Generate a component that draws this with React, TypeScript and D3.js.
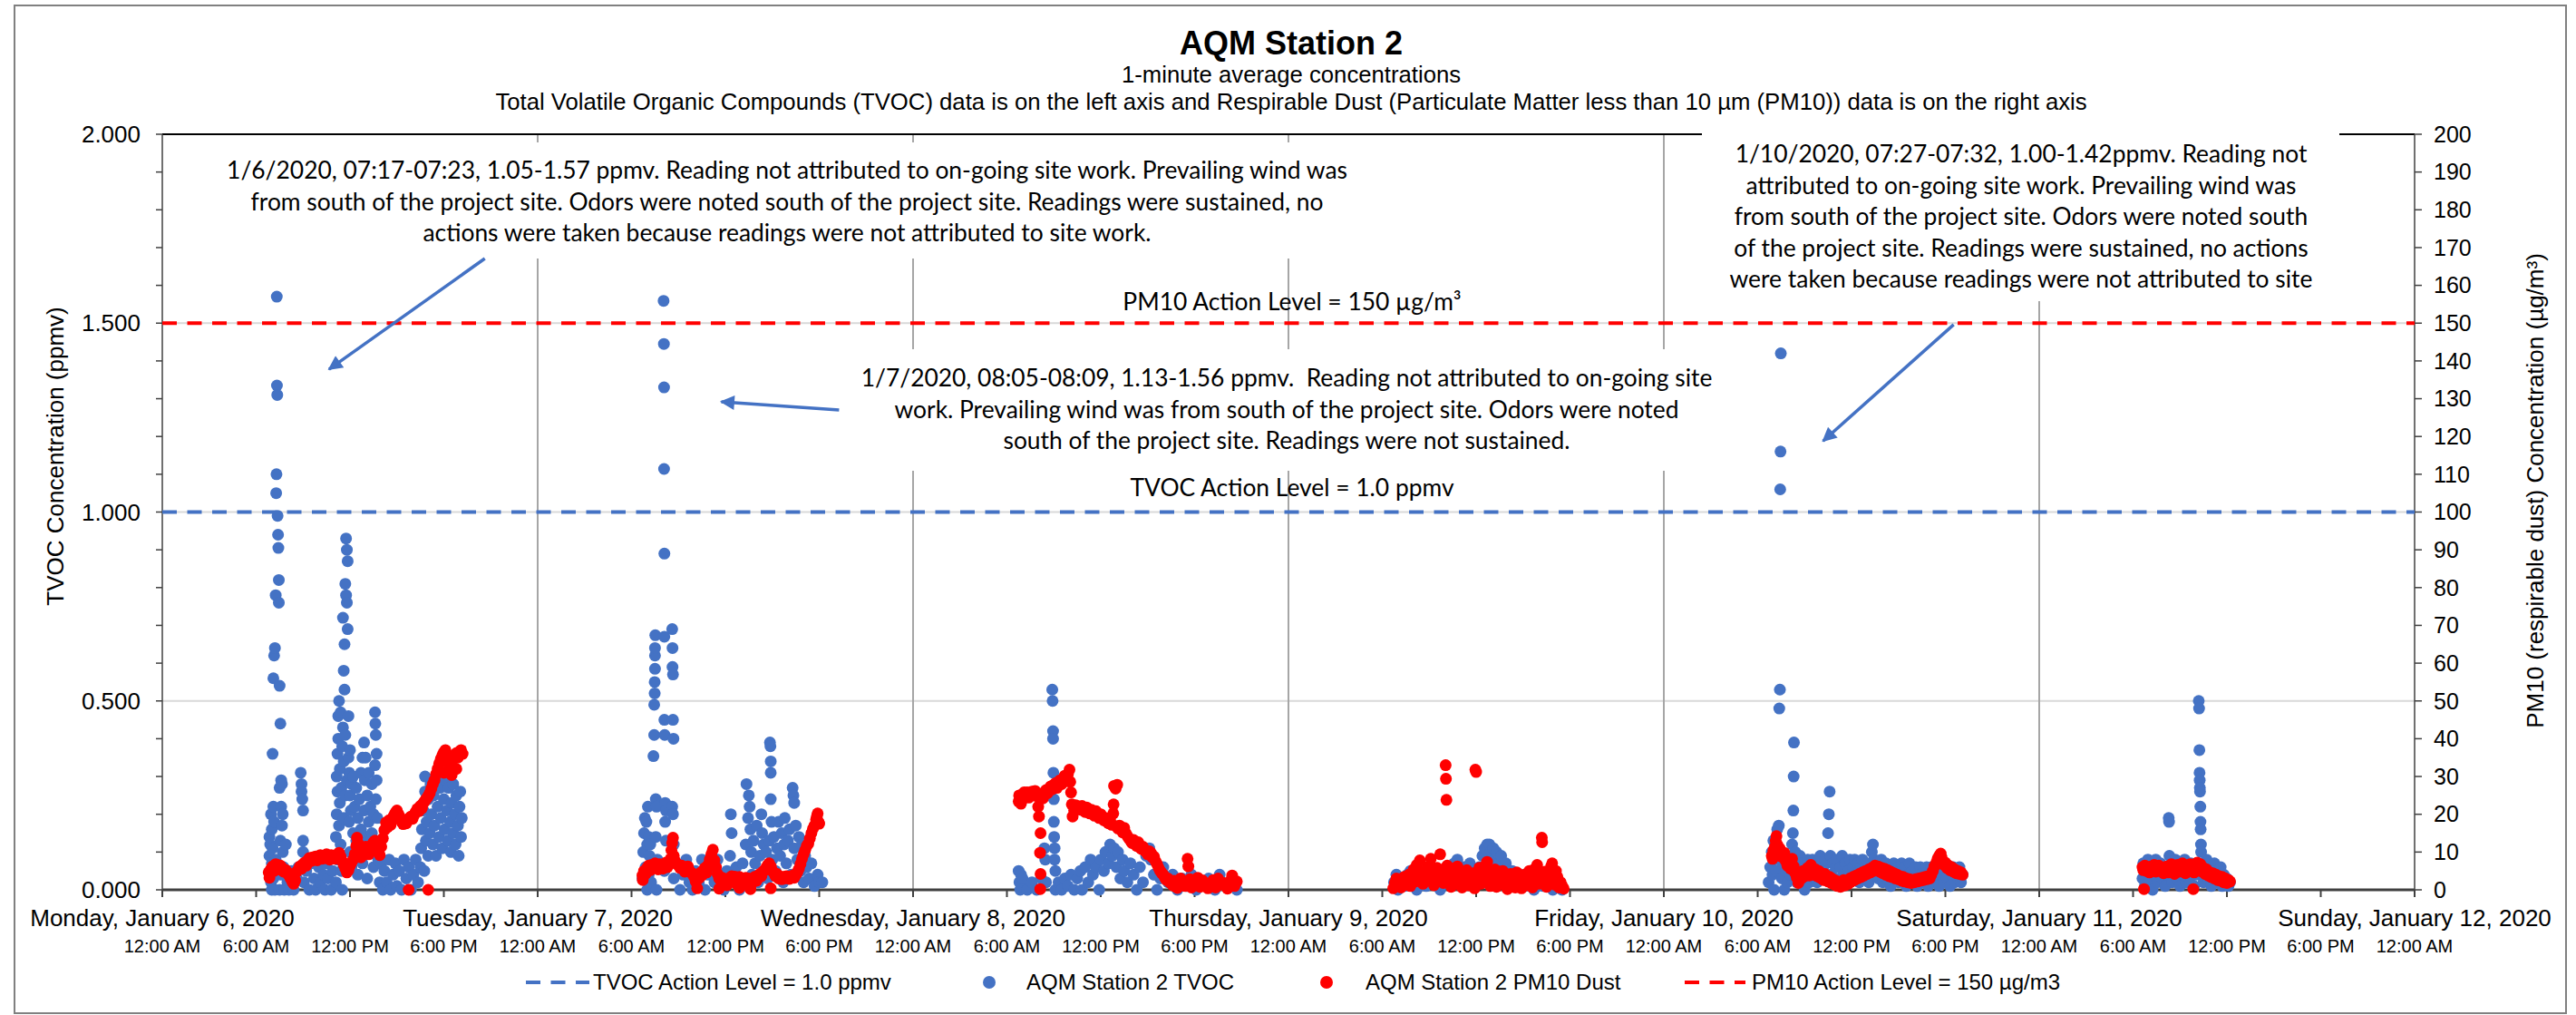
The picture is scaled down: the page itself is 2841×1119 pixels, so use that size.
import React, { useEffect, useRef } from 'react';
import * as d3 from 'd3';

const W = 2841;
const H = 1119;

// hour of day, TVOC ppmv (left axis)
const tvocJan6: [number, number][] = [
  [6.85, 0.14], [6.85, 0.09], [6.9, 0.12], [6.9, 0.05], [6.95, 0.2], [6.95, 0.02], [7.0, 0.16], [7.0, 0.07], [7.0, 0.0],
  [7.05, 0.36], [7.05, 0.11], [7.1, 0.56], [7.1, 0.22], [7.1, 0.03], [7.15, 0.62], [7.15, 0.18], [7.2, 0.64], [7.2, 0.0],
  [7.25, 0.78], [7.25, 0.08], [7.28, 1.05], [7.3, 1.1], [7.32, 1.57], [7.33, 1.335], [7.35, 1.31], [7.37, 0.99], [7.4, 0.94],
  [7.42, 0.905], [7.45, 0.82], [7.45, 0.76], [7.5, 0.54], [7.5, 0.27], [7.5, 0.0], [7.55, 0.44], [7.55, 0.13], [7.6, 0.29],
  [7.6, 0.22], [7.6, 0.04], [7.65, 0.28], [7.65, 0.17], [7.7, 0.2], [7.7, 0.1], [7.75, 0.06], [7.8, 0.0], [7.9, 0.12],
  [8.0, 0.02], [8.1, 0.0], [8.25, 0.05], [8.4, 0.0], [8.6, 0.03], [8.7, 0.06], [8.85, 0.31], [8.9, 0.28], [8.9, 0.26],
  [8.95, 0.24], [9.0, 0.21], [9.0, 0.13], [9.0, 0.1], [9.05, 0.02], [9.2, 0.05], [9.4, 0.0], [9.5, 0.07], [9.7, 0.03],
  [9.8, 0.0], [10.0, 0.06], [10.1, 0.02], [10.3, 0.04], [10.4, 0.0], [10.5, 0.07], [10.6, 0.03], [10.8, 0.0], [10.9, 0.05],
  [11.0, 0.09], [11.1, 0.02], [11.1, 0.14], [11.15, 0.2], [11.15, 0.3], [11.2, 0.26], [11.2, 0.36], [11.2, 0.08],
  [11.25, 0.4], [11.25, 0.46], [11.3, 0.5], [11.3, 0.17], [11.35, 0.23], [11.35, 0.32], [11.4, 0.47], [11.4, 0.12],
  [11.45, 0.05], [11.45, 0.27], [11.5, 0.0], [11.5, 0.38], [11.55, 0.72], [11.55, 0.43], [11.6, 0.58], [11.6, 0.34],
  [11.6, 0.19], [11.65, 0.53], [11.65, 0.65], [11.7, 0.81], [11.7, 0.41], [11.7, 0.25], [11.75, 0.93], [11.75, 0.78],
  [11.8, 0.9], [11.8, 0.76], [11.8, 0.29], [11.85, 0.87], [11.85, 0.69], [11.9, 0.46], [11.9, 0.35], [11.95, 0.31],
  [11.95, 0.18], [12.0, 0.37], [12.0, 0.25], [12.0, 0.1], [12.05, 0.21], [12.1, 0.28], [12.1, 0.06], [12.2, 0.3],
  [12.2, 0.15], [12.3, 0.22], [12.3, 0.09], [12.4, 0.27], [12.4, 0.13], [12.5, 0.19], [12.5, 0.04], [12.6, 0.24],
  [12.6, 0.11], [12.7, 0.31], [12.7, 0.16], [12.8, 0.35], [12.8, 0.07], [12.9, 0.39], [12.9, 0.21], [12.95, 0.29],
  [13.0, 0.35], [13.0, 0.14], [13.1, 0.25], [13.1, 0.03], [13.2, 0.18], [13.2, 0.31], [13.3, 0.22], [13.3, 0.1],
  [13.4, 0.28], [13.4, 0.15], [13.5, 0.2], [13.5, 0.06], [13.6, 0.47], [13.6, 0.33], [13.62, 0.44], [13.65, 0.41],
  [13.65, 0.24], [13.7, 0.36], [13.7, 0.29], [13.7, 0.12], [13.75, 0.19], [13.8, 0.08], [13.9, 0.02], [14.0, 0.07],
  [14.1, 0.0], [14.2, 0.05], [14.35, 0.02], [14.5, 0.08], [14.6, 0.0], [14.75, 0.04], [14.9, 0.07], [15.0, 0.01],
  [15.15, 0.05], [15.3, 0.0], [15.45, 0.08], [15.6, 0.03], [15.75, 0.06], [15.9, 0.0], [16.05, 0.04], [16.2, 0.08],
  [16.35, 0.02], [16.5, 0.06], [16.55, 0.11], [16.6, 0.16], [16.7, 0.21], [16.75, 0.05], [16.8, 0.3], [16.8, 0.26],
  [16.85, 0.13], [16.9, 0.18], [17.0, 0.24], [17.0, 0.09], [17.1, 0.15], [17.15, 0.28], [17.2, 0.2], [17.3, 0.12],
  [17.35, 0.25], [17.4, 0.17], [17.5, 0.29], [17.5, 0.09], [17.6, 0.22], [17.7, 0.14], [17.75, 0.27], [17.8, 0.19],
  [17.9, 0.11], [18.0, 0.24], [18.05, 0.16], [18.1, 0.29], [18.2, 0.21], [18.25, 0.13], [18.3, 0.27], [18.4, 0.18],
  [18.45, 0.1], [18.5, 0.23], [18.6, 0.28], [18.6, 0.15], [18.7, 0.2], [18.75, 0.12], [18.8, 0.25], [18.9, 0.17],
  [18.95, 0.09], [19.0, 0.22], [19.05, 0.26], [19.1, 0.14], [19.15, 0.19],
];

const tvocJan7: [number, number][] = [
  [6.7, 0.03], [6.75, 0.1], [6.8, 0.15], [6.85, 0.19], [6.9, 0.06], [6.95, 0.18], [7.0, 0.12], [7.0, 0.0], [7.05, 0.22],
  [7.1, 0.14], [7.1, 0.04], [7.15, 0.09], [7.2, 0.12], [7.25, 0.02], [7.3, 0.07], [7.4, 0.354], [7.45, 0.41], [7.45, 0.49],
  [7.48, 0.52], [7.48, 0.55], [7.5, 0.585], [7.5, 0.62], [7.5, 0.64], [7.52, 0.674], [7.55, 0.24], [7.6, 0.22],
  [7.55, 0.14], [7.6, 0.0], [7.65, 0.08], [8.05, 1.559], [8.07, 1.445], [8.08, 1.33], [8.08, 1.114], [8.1, 0.89],
  [8.1, 0.67], [8.1, 0.45], [8.12, 0.41], [8.15, 0.23], [8.15, 0.18], [8.1, 0.05], [8.2, 0.21], [8.2, 0.13], [8.6, 0.69],
  [8.62, 0.64], [8.62, 0.59], [8.65, 0.57], [8.65, 0.45], [8.68, 0.4], [8.6, 0.22], [8.65, 0.2], [8.7, 0.12], [8.7, 0.03],
  [8.9, 0.07], [9.1, 0.0], [9.3, 0.04], [9.5, 0.08], [9.7, 0.02], [9.9, 0.0], [10.1, 0.05], [10.3, 0.02], [10.5, 0.08],
  [10.7, 0.0], [10.9, 0.04], [11.1, 0.06], [11.3, 0.02], [11.5, 0.08], [11.7, 0.04], [11.9, 0.0], [12.1, 0.05],
  [12.3, 0.09], [12.35, 0.2], [12.4, 0.15], [12.5, 0.03], [12.7, 0.06], [12.9, 0.0], [13.1, 0.07], [13.3, 0.12],
  [13.35, 0.28], [13.45, 0.19], [13.5, 0.25], [13.55, 0.22], [13.6, 0.16], [13.65, 0.1], [13.7, 0.04], [13.8, 0.13],
  [13.9, 0.07], [14.0, 0.17], [14.1, 0.02], [14.2, 0.09], [14.3, 0.2], [14.35, 0.15], [14.45, 0.12], [14.5, 0.05],
  [14.6, 0.1], [14.7, 0.03], [14.8, 0.13], [14.85, 0.39], [14.88, 0.38], [14.9, 0.34], [14.9, 0.31], [14.9, 0.24],
  [14.95, 0.18], [15.0, 0.08], [15.1, 0.14], [15.2, 0.05], [15.3, 0.11], [15.4, 0.18], [15.5, 0.09], [15.6, 0.15],
  [15.7, 0.02], [15.75, 0.12], [15.8, 0.19], [15.9, 0.07], [16.0, 0.13], [16.1, 0.16], [16.2, 0.04], [16.3, 0.27],
  [16.35, 0.25], [16.4, 0.23], [16.4, 0.11], [16.5, 0.17], [16.6, 0.08], [16.7, 0.14], [16.8, 0.05], [16.9, 0.12],
  [17.0, 0.02], [17.1, 0.09], [17.2, 0.06], [17.35, 0.03], [17.5, 0.07], [17.7, 0.01], [17.9, 0.04], [18.0, 0.02],
  [18.2, 0.02],
];

const tvocJan8: [number, number][] = [
  [6.75, 0.05], [6.8, 0.02], [6.85, 0.0], [6.9, 0.04], [6.95, 0.01], [7.0, 0.03], [7.3, 0.0], [7.6, 0.02], [7.9, 0.0],
  [8.2, 0.03], [8.4, 0.11], [8.45, 0.08], [8.5, 0.02], [8.9, 0.53], [8.92, 0.5], [8.95, 0.42], [8.95, 0.4], [8.97, 0.31],
  [9.0, 0.24], [9.0, 0.18], [9.02, 0.14], [9.05, 0.11], [9.05, 0.08], [9.1, 0.05], [9.1, 0.0], [9.3, 0.02], [9.5, 0.0],
  [9.7, 0.03], [9.9, 0.01], [10.1, 0.04], [10.3, 0.0], [10.5, 0.03], [10.7, 0.05], [10.8, 0.0], [11.0, 0.06], [11.2, 0.02],
  [11.35, 0.08], [11.5, 0.04], [11.7, 0.06], [11.9, 0.0], [12.0, 0.08], [12.2, 0.05], [12.3, 0.1], [12.5, 0.07],
  [12.6, 0.12], [12.75, 0.09], [12.85, 0.11], [13.0, 0.06], [13.1, 0.1], [13.25, 0.03], [13.4, 0.08], [13.5, 0.05],
  [13.7, 0.02], [13.9, 0.07], [14.1, 0.04], [14.3, 0.0], [14.5, 0.06], [14.7, 0.02], [14.9, 0.09], [15.1, 0.11],
  [15.2, 0.08], [15.4, 0.04], [15.6, 0.0], [15.8, 0.03], [16.0, 0.06], [16.3, 0.02], [16.6, 0.04], [16.9, 0.0],
  [17.2, 0.03], [17.5, 0.01], [17.8, 0.04], [18.1, 0.0], [18.5, 0.02], [18.9, 0.03], [19.3, 0.0], [19.6, 0.04],
  [20.0, 0.01], [20.4, 0.03], [20.7, 0.0],
];

const tvocJan9: [number, number][] = [
  [6.75, 0.02], [6.9, 0.04], [7.0, 0.0], [7.2, 0.03], [7.4, 0.01], [7.6, 0.04], [7.8, 0.05], [8.0, 0.02], [8.2, 0.0],
  [8.5, 0.03], [8.8, 0.01], [9.1, 0.04], [9.4, 0.02], [9.7, 0.0], [10.0, 0.03], [10.3, 0.05], [10.6, 0.07], [10.8, 0.08],
  [11.0, 0.04], [11.2, 0.06], [11.4, 0.02], [11.6, 0.07], [11.8, 0.05], [12.0, 0.03], [12.2, 0.06], [12.4, 0.09],
  [12.55, 0.11], [12.7, 0.12], [12.85, 0.12], [12.95, 0.1], [13.1, 0.11], [13.2, 0.08], [13.3, 0.1], [13.45, 0.07],
  [13.6, 0.09], [13.7, 0.05], [13.9, 0.07], [14.1, 0.04], [14.3, 0.05], [14.5, 0.02], [14.8, 0.04], [15.1, 0.01],
  [15.4, 0.03], [15.7, 0.0], [16.0, 0.02], [16.3, 0.01], [16.6, 0.03], [16.9, 0.0], [17.2, 0.02], [17.5, 0.0],
];

const tvocJan10: [number, number][] = [
  [6.7, 0.02], [6.8, 0.06], [6.9, 0.1], [6.95, 0.04], [7.0, 0.13], [7.05, 0.0], [7.1, 0.08], [7.2, 0.05], [7.25, 0.16],
  [7.3, 0.11], [7.35, 0.17], [7.38, 0.48], [7.42, 0.53], [7.44, 1.06], [7.46, 1.16], [7.48, 1.42], [7.5, 0.09],
  [7.55, 0.03], [7.6, 0.07], [7.7, 0.0], [7.8, 0.05], [7.9, 0.02], [8.0, 0.08], [8.1, 0.04], [8.2, 0.12], [8.25, 0.15],
  [8.28, 0.21], [8.3, 0.3], [8.32, 0.39], [8.35, 0.07], [8.4, 0.1], [8.5, 0.02], [8.6, 0.06], [8.7, 0.09], [8.8, 0.03],
  [8.9, 0.07], [9.0, 0.0], [9.1, 0.05], [9.2, 0.08], [9.3, 0.02], [9.4, 0.06], [9.5, 0.08], [9.6, 0.04], [9.7, 0.07],
  [9.8, 0.02], [9.9, 0.06], [10.0, 0.09], [10.1, 0.03], [10.2, 0.06], [10.3, 0.08], [10.5, 0.15], [10.55, 0.2],
  [10.6, 0.26], [10.65, 0.09], [10.7, 0.04], [10.8, 0.07], [10.9, 0.02], [11.0, 0.06], [11.1, 0.08], [11.2, 0.03],
  [11.3, 0.06], [11.4, 0.09], [11.5, 0.04], [11.6, 0.07], [11.7, 0.02], [11.8, 0.05], [11.9, 0.08], [12.0, 0.03],
  [12.1, 0.06], [12.2, 0.08], [12.3, 0.04], [12.4, 0.07], [12.5, 0.02], [12.6, 0.06], [12.7, 0.08], [12.8, 0.03],
  [12.9, 0.05], [13.0, 0.07], [13.1, 0.02], [13.2, 0.06], [13.3, 0.1], [13.37, 0.12], [13.45, 0.08], [13.5, 0.04],
  [13.6, 0.07], [13.7, 0.03], [13.8, 0.06], [13.9, 0.08], [14.0, 0.02], [14.1, 0.05], [14.2, 0.07], [14.3, 0.03],
  [14.4, 0.06], [14.5, 0.01], [14.6, 0.05], [14.7, 0.07], [14.8, 0.03], [14.9, 0.06], [15.0, 0.02], [15.1, 0.05],
  [15.2, 0.07], [15.3, 0.03], [15.4, 0.06], [15.5, 0.01], [15.6, 0.04], [15.7, 0.07], [15.8, 0.02], [15.9, 0.05],
  [16.0, 0.03], [16.1, 0.06], [16.2, 0.01], [16.3, 0.04], [16.4, 0.06], [16.5, 0.02], [16.6, 0.05], [16.7, 0.03],
  [16.8, 0.06], [16.9, 0.01], [17.0, 0.04], [17.1, 0.06], [17.2, 0.02], [17.3, 0.05], [17.4, 0.03], [17.5, 0.06],
  [17.6, 0.01], [17.7, 0.04], [17.8, 0.06], [17.9, 0.02], [18.0, 0.05], [18.1, 0.03], [18.2, 0.06], [18.3, 0.01],
  [18.4, 0.04], [18.5, 0.06], [18.6, 0.02], [18.7, 0.05], [18.8, 0.03], [18.9, 0.06], [19.0, 0.02], [19.1, 0.04],
];

const tvocJan11: [number, number][] = [
  [6.6, 0.03], [6.65, 0.07], [6.75, 0.01], [6.85, 0.05], [6.95, 0.08], [7.05, 0.02], [7.15, 0.06], [7.25, 0.0],
  [7.35, 0.04], [7.45, 0.08], [7.55, 0.02], [7.65, 0.05], [7.75, 0.07], [7.85, 0.03], [7.95, 0.06], [8.05, 0.01],
  [8.15, 0.04], [8.28, 0.19], [8.3, 0.18], [8.32, 0.09], [8.4, 0.05], [8.5, 0.02], [8.6, 0.06], [8.7, 0.08], [8.8, 0.03],
  [8.9, 0.05], [9.0, 0.01], [9.1, 0.07], [9.2, 0.04], [9.3, 0.08], [9.4, 0.02], [9.5, 0.06], [9.6, 0.03], [9.7, 0.07],
  [9.8, 0.05], [9.9, 0.01], [10.0, 0.04], [10.1, 0.07], [10.2, 0.5], [10.22, 0.48], [10.24, 0.37], [10.25, 0.31],
  [10.26, 0.29], [10.27, 0.27], [10.28, 0.26], [10.3, 0.22], [10.31, 0.18], [10.32, 0.16], [10.34, 0.12], [10.35, 0.1],
  [10.4, 0.06], [10.5, 0.02], [10.6, 0.05], [10.7, 0.08], [10.8, 0.03], [10.9, 0.06], [11.0, 0.01], [11.1, 0.04],
  [11.2, 0.07], [11.3, 0.02], [11.4, 0.05], [11.5, 0.03], [11.6, 0.06], [11.7, 0.01], [11.8, 0.04], [11.9, 0.02],
  [12.0, 0.03], [12.1, 0.01], [12.2, 0.02],
];

// hour of day, PM10 ug/m3 (right axis)
const pm10Jan6: [number, number][] = [
  [6.8, 4.6], [6.85, 3.2], [6.95, 5.5], [7.05, 6.2], [7.15, 5.0], [7.25, 6.8], [7.35, 6.6], [7.45, 5.4], [7.55, 6.4],
  [7.65, 5.8], [7.75, 4.8], [7.9, 5.2], [8.0, 4.6], [8.1, 3.8], [8.2, 3.0], [8.3, 2.2], [8.4, 1.6], [8.5, 2.5],
  [8.6, 4.8], [8.7, 5.4], [8.8, 6.2], [8.9, 5.6], [9.0, 6.8], [9.1, 7.2], [9.2, 6.4], [9.3, 7.8], [9.4, 8.4], [9.5, 7.6],
  [9.6, 8.6], [9.7, 8.0], [9.8, 8.8], [9.9, 7.8], [10.0, 8.6], [10.1, 9.2], [10.2, 8.2], [10.3, 9.0], [10.4, 8.4],
  [10.5, 9.4], [10.6, 8.6], [10.7, 8.0], [10.8, 9.2], [10.9, 8.4], [11.0, 9.0], [11.1, 8.2], [11.2, 9.4], [11.3, 9.8],
  [11.4, 8.8], [11.5, 7.6], [11.6, 6.6], [11.7, 5.6], [11.8, 4.6], [11.9, 5.2], [12.0, 6.4], [12.1, 7.2], [12.2, 8.0],
  [12.3, 9.4], [12.4, 11.6], [12.45, 13.8], [12.5, 12.4], [12.6, 10.0], [12.7, 8.6], [12.8, 9.6], [12.9, 10.8],
  [13.0, 11.4], [13.1, 10.2], [13.2, 9.4], [13.3, 10.6], [13.4, 11.8], [13.5, 12.6], [13.6, 13.0], [13.7, 11.2],
  [13.8, 10.0], [13.9, 9.2], [14.0, 11.4], [14.1, 13.6], [14.2, 15.8], [14.3, 17.8], [14.4, 16.6], [14.5, 18.4],
  [14.6, 17.2], [14.7, 18.8], [14.8, 19.6], [14.9, 20.4], [15.0, 21.0], [15.1, 20.0], [15.2, 19.2], [15.3, 18.0],
  [15.4, 17.4], [15.5, 18.2], [15.6, 17.6], [15.7, 18.6], [15.75, 0.0], [15.8, 19.0], [15.9, 19.4], [16.0, 18.8],
  [16.1, 19.8], [16.2, 20.6], [16.3, 21.4], [16.4, 20.8], [16.5, 22.2], [16.6, 21.6], [16.7, 23.0], [16.8, 23.6],
  [16.9, 24.2], [17.0, 0.0], [17.0, 24.8], [17.1, 25.6], [17.2, 26.8], [17.3, 28.0], [17.4, 29.0], [17.5, 30.6],
  [17.6, 32.0], [17.7, 33.4], [17.8, 34.6], [17.9, 35.6], [18.0, 36.4], [18.0, 31.0], [18.1, 37.0], [18.2, 35.0],
  [18.3, 33.2], [18.4, 32.0], [18.5, 33.6], [18.5, 30.4], [18.6, 34.8], [18.7, 35.8], [18.8, 36.2], [18.8, 32.0],
  [18.9, 35.0], [19.0, 36.6], [19.1, 37.0], [19.2, 36.0],
];

const pm10Jan7: [number, number][] = [
  [6.7, 3.8], [6.72, 2.6], [6.8, 5.0], [6.9, 4.2], [7.0, 5.8], [7.1, 6.4], [7.2, 5.2], [7.3, 6.6], [7.4, 5.8], [7.5, 7.0],
  [7.6, 6.2], [7.7, 5.4], [7.8, 6.8], [7.9, 6.2], [8.0, 5.6], [8.1, 6.5], [8.2, 7.2], [8.3, 6.0], [8.4, 7.5], [8.5, 8.2],
  [8.55, 10.5], [8.6, 12.4], [8.65, 13.8], [8.7, 9.0], [8.8, 7.5], [8.9, 6.8], [9.0, 6.5], [9.1, 5.8], [9.2, 6.4],
  [9.3, 5.5], [9.4, 4.8], [9.5, 5.6], [9.6, 6.2], [9.7, 5.0], [9.8, 4.6], [9.9, 4.2], [10.0, 3.4], [10.1, 2.2],
  [10.2, 0.4], [10.3, 3.0], [10.4, 4.5], [10.5, 3.8], [10.6, 5.2], [10.7, 5.8], [10.8, 4.6], [10.9, 6.6], [11.0, 8.0],
  [11.1, 9.4], [11.2, 10.6], [11.3, 7.8], [11.4, 6.0], [11.5, 4.2], [11.6, 3.0], [11.6, 0.3], [11.7, 2.4], [11.8, 3.2],
  [11.9, 1.8], [12.0, 2.6], [12.1, 1.2], [12.2, 3.0], [12.3, 2.2], [12.4, 3.6], [12.5, 2.4], [12.6, 3.5], [12.7, 1.6],
  [12.8, 2.8], [12.9, 3.4], [12.9, 0.5], [13.0, 2.5], [13.1, 1.4], [13.2, 2.6], [13.3, 3.2], [13.4, 2.0], [13.5, 3.0],
  [13.6, 2.5], [13.6, 0.2], [13.7, 1.8], [13.8, 2.8], [13.9, 3.5], [14.0, 2.4], [14.1, 3.3], [14.2, 4.2], [14.3, 3.6],
  [14.4, 4.8], [14.5, 5.2], [14.6, 5.8], [14.7, 6.5], [14.8, 7.0], [14.9, 6.2], [14.9, 0.4], [15.0, 5.0], [15.1, 4.5],
  [15.2, 3.6], [15.3, 4.2], [15.4, 3.0], [15.5, 3.5], [15.6, 2.8], [15.7, 3.4], [15.8, 3.0], [15.9, 3.6], [16.0, 3.3],
  [16.1, 2.9], [16.2, 3.5], [16.3, 3.8], [16.4, 3.2], [16.5, 4.0], [16.6, 4.6], [16.7, 5.5], [16.8, 6.8], [16.9, 8.2],
  [17.0, 9.4], [17.1, 10.5], [17.2, 11.6], [17.3, 12.2], [17.4, 13.6], [17.5, 15.0], [17.6, 16.2], [17.7, 17.0],
  [17.8, 18.6], [17.85, 19.5], [17.9, 20.2], [17.95, 18.0], [18.0, 17.5],
];

const pm10Jan8: [number, number][] = [
  [6.75, 23.4], [6.78, 25.0], [6.85, 24.2], [6.9, 22.8], [6.95, 25.2], [7.0, 24.0], [7.1, 25.8], [7.2, 24.6], [7.3, 25.8],
  [7.4, 24.4], [7.5, 25.0], [7.6, 26.0], [7.7, 25.2], [7.8, 26.2], [7.9, 24.8], [8.0, 22.0], [8.05, 19.4], [8.15, 15.0],
  [8.12, 9.8], [8.15, 4.2], [8.13, 0.2], [8.2, 25.4], [8.3, 24.2], [8.4, 25.8], [8.5, 26.4], [8.6, 25.6], [8.7, 26.8],
  [8.8, 27.4], [8.9, 26.6], [9.0, 27.8], [9.1, 28.2], [9.2, 27.0], [9.3, 28.6], [9.4, 29.0], [9.5, 28.0], [9.6, 29.4],
  [9.7, 30.2], [9.8, 28.8], [9.9, 30.6], [10.0, 31.8], [10.05, 28.6], [10.1, 25.8], [10.15, 22.6], [10.2, 19.4],
  [10.3, 21.0], [10.4, 22.4], [10.5, 21.6], [10.6, 22.0], [10.7, 21.2], [10.8, 22.2], [10.9, 21.4], [11.0, 20.6],
  [11.1, 21.8], [11.2, 21.0], [11.3, 20.2], [11.4, 21.2], [11.5, 20.4], [11.6, 19.6], [11.7, 20.8], [11.8, 19.8],
  [11.9, 19.0], [12.0, 20.0], [12.1, 19.2], [12.2, 18.4], [12.3, 19.0], [12.4, 18.0], [12.5, 17.6], [12.6, 18.2],
  [12.7, 17.2], [12.8, 20.2], [12.82, 22.6], [12.85, 27.5], [12.95, 26.8], [13.05, 27.8], [13.0, 16.8], [13.1, 16.2],
  [13.2, 17.0], [13.3, 16.0], [13.4, 15.2], [13.5, 16.4], [13.6, 15.0], [13.7, 14.2], [13.8, 13.6], [13.9, 13.0],
  [14.0, 12.4], [14.1, 13.2], [14.2, 12.0], [14.3, 11.6], [14.4, 12.6], [14.5, 11.2], [14.6, 10.8], [14.7, 11.4],
  [14.8, 10.4], [14.9, 10.0], [15.0, 9.4], [15.1, 10.2], [15.2, 9.8], [15.3, 8.6], [15.4, 8.8], [15.5, 7.6], [15.6, 6.8],
  [15.7, 5.8], [15.8, 5.0], [15.9, 4.4], [16.0, 4.0], [16.1, 3.2], [16.2, 2.6], [16.3, 3.0], [16.4, 2.0], [16.5, 1.8],
  [16.6, 1.2], [16.7, 2.4], [16.8, 0.8], [16.9, 0.5], [17.0, 1.6], [17.1, 3.0], [17.2, 2.2], [17.4, 1.0], [17.55, 8.2],
  [17.6, 6.2], [17.7, 2.8], [17.8, 0.6], [18.0, 1.5], [18.2, 3.2], [18.35, 0.8], [18.5, 2.5], [18.7, 1.6], [18.85, 0.4],
  [19.0, 1.2], [19.2, 2.6], [19.35, 0.6], [19.5, 3.0], [19.7, 1.4], [19.9, 1.8], [20.1, 0.3], [20.3, 2.4], [20.4, 3.8],
  [20.55, 1.0], [20.7, 2.2],
];

const pm10Jan9: [number, number][] = [
  [6.7, 0.4], [6.8, 1.8], [6.9, 3.0], [7.0, 1.2], [7.1, 2.6], [7.2, 0.6], [7.3, 2.0], [7.4, 3.4], [7.5, 1.4], [7.6, 2.8],
  [7.7, 4.0], [7.8, 1.0], [7.9, 3.2], [8.0, 5.4], [8.1, 2.2], [8.2, 6.6], [8.3, 3.6], [8.4, 7.8], [8.5, 4.4], [8.6, 1.6],
  [8.7, 5.0], [8.8, 2.8], [8.9, 6.0], [9.0, 3.4], [9.1, 8.2], [9.2, 4.6], [9.3, 1.2], [9.4, 3.8], [9.5, 5.8], [9.6, 2.4],
  [9.7, 9.4], [9.8, 4.8], [9.9, 1.8], [10.0, 3.6], [10.05, 33.0], [10.07, 29.4], [10.1, 23.8], [10.15, 6.4], [10.2, 2.0],
  [10.3, 4.4], [10.4, 0.8], [10.5, 3.0], [10.6, 5.6], [10.7, 2.2], [10.8, 6.2], [10.9, 1.4], [11.0, 3.8], [11.1, 0.6],
  [11.2, 4.8], [11.3, 2.6], [11.4, 5.2], [11.5, 1.2], [11.6, 3.6], [11.7, 2.0], [11.8, 4.4], [11.9, 0.4], [11.95, 31.8],
  [12.0, 31.2], [12.1, 3.0], [12.2, 5.8], [12.3, 1.6], [12.4, 4.0], [12.5, 2.4], [12.6, 6.4], [12.7, 7.4], [12.8, 3.4],
  [12.9, 1.0], [13.0, 4.6], [13.1, 2.8], [13.2, 5.4], [13.3, 0.8], [13.4, 3.2], [13.5, 4.8], [13.6, 2.0], [13.7, 5.0],
  [13.8, 1.4], [13.9, 3.6], [14.0, 0.2], [14.1, 2.6], [14.2, 4.2], [14.3, 1.8], [14.4, 3.0], [14.5, 0.6], [14.6, 4.6],
  [14.7, 2.2], [14.8, 3.4], [14.9, 0.4], [15.0, 2.8], [15.1, 4.0], [15.2, 1.2], [15.3, 3.2], [15.4, 5.0], [15.5, 2.0],
  [15.6, 0.6], [15.7, 5.4], [15.8, 3.0], [15.9, 6.6], [16.0, 1.6], [16.1, 4.4], [16.2, 13.8], [16.22, 12.6], [16.3, 2.2],
  [16.4, 4.8], [16.5, 0.8], [16.6, 3.8], [16.7, 2.4], [16.8, 6.2], [16.86, 7.0], [16.95, 4.2], [17.0, 1.4], [17.1, 5.0],
  [17.2, 3.4], [17.3, 0.6], [17.4, 2.0], [17.5, 1.0], [17.6, 0.3],
];

const pm10Jan10: [number, number][] = [
  [6.9, 9.0], [6.95, 8.2], [7.0, 10.4], [7.1, 11.4], [7.15, 13.0], [7.2, 14.2], [7.25, 12.0], [7.3, 10.2], [7.35, 9.0],
  [7.4, 11.0], [7.5, 10.0], [7.6, 8.6], [7.7, 9.8], [7.8, 7.6], [7.9, 6.4], [8.0, 7.0], [8.1, 5.6], [8.2, 8.2], [8.3, 6.2],
  [8.4, 4.4], [8.5, 3.2], [8.6, 1.8], [8.7, 4.0], [8.8, 3.0], [8.9, 5.0], [9.0, 3.6], [9.1, 4.2], [9.2, 5.8], [9.3, 3.8],
  [9.4, 6.6], [9.5, 5.2], [9.6, 4.0], [9.7, 5.4], [9.8, 3.6], [9.9, 5.0], [10.0, 3.2], [10.1, 4.4], [10.2, 2.6],
  [10.3, 4.2], [10.4, 3.0], [10.5, 2.2], [10.6, 3.4], [10.7, 1.8], [10.8, 2.8], [10.9, 1.4], [11.0, 2.4], [11.1, 1.0],
  [11.2, 2.0], [11.3, 0.8], [11.4, 1.6], [11.5, 2.6], [11.6, 1.2], [11.7, 2.2], [11.8, 1.6], [11.9, 3.0], [12.0, 2.2],
  [12.1, 3.4], [12.2, 2.6], [12.3, 3.8], [12.4, 3.0], [12.5, 4.2], [12.6, 3.4], [12.7, 4.6], [12.8, 3.8], [12.9, 5.0],
  [13.0, 4.2], [13.1, 5.4], [13.2, 4.6], [13.3, 5.8], [13.4, 5.0], [13.5, 6.4], [13.6, 5.4], [13.7, 6.2], [13.8, 4.8],
  [13.9, 5.8], [14.0, 4.4], [14.1, 5.6], [14.2, 4.0], [14.3, 5.2], [14.4, 3.6], [14.5, 4.8], [14.6, 3.4], [14.7, 4.4],
  [14.8, 3.0], [14.9, 4.0], [15.0, 2.8], [15.1, 3.6], [15.2, 2.4], [15.3, 3.4], [15.4, 2.2], [15.5, 3.0], [15.6, 2.0],
  [15.7, 2.8], [15.8, 1.8], [15.9, 2.6], [16.0, 2.0], [16.1, 2.8], [16.2, 2.2], [16.3, 3.0], [16.4, 2.4], [16.5, 3.2],
  [16.6, 2.6], [16.7, 3.4], [16.8, 2.8], [16.9, 3.6], [17.0, 3.0], [17.1, 4.0], [17.2, 5.0], [17.3, 6.2], [17.4, 7.0],
  [17.5, 8.2], [17.6, 9.0], [17.7, 9.6], [17.75, 8.6], [17.8, 7.4], [17.9, 6.6], [18.0, 7.2], [18.1, 5.8], [18.2, 6.4],
  [18.3, 5.2], [18.4, 6.0], [18.5, 4.8], [18.6, 5.4], [18.7, 4.4], [18.8, 5.0], [18.9, 4.2], [19.0, 4.6], [19.1, 4.0],
];

const pm10Jan11: [number, number][] = [
  [6.6, 6.0], [6.65, 5.2], [6.7, 0.2], [6.75, 6.4], [6.85, 5.0], [6.95, 5.8], [7.05, 4.6], [7.15, 6.2], [7.25, 5.4],
  [7.35, 6.6], [7.45, 4.8], [7.55, 5.6], [7.65, 6.4], [7.75, 5.0], [7.85, 5.8], [7.95, 4.4], [8.05, 5.4], [8.15, 6.2],
  [8.25, 4.6], [8.35, 5.6], [8.45, 6.8], [8.55, 5.2], [8.65, 4.2], [8.75, 5.8], [8.85, 6.6], [8.95, 4.8], [9.05, 6.0],
  [9.15, 7.0], [9.25, 5.4], [9.35, 4.4], [9.45, 6.2], [9.55, 5.0], [9.65, 6.8], [9.75, 5.6], [9.85, 0.2], [9.9, 4.6],
  [10.0, 6.0], [10.1, 7.2], [10.2, 5.2], [10.3, 6.8], [10.4, 4.8], [10.5, 5.8], [10.6, 4.2], [10.7, 5.4], [10.8, 3.8],
  [10.9, 4.6], [11.0, 3.4], [11.1, 4.4], [11.2, 3.0], [11.3, 4.0], [11.4, 2.6], [11.5, 3.6], [11.6, 2.4], [11.7, 3.4],
  [11.8, 2.0], [11.9, 3.0], [12.0, 1.8], [12.1, 2.6], [12.2, 2.2],
];

const tvocByDay: [number, [number, number][]][] = [
  [6, tvocJan6], [7, tvocJan7], [8, tvocJan8], [9, tvocJan9], [10, tvocJan10], [11, tvocJan11],
];
const pm10ByDay: [number, [number, number][]][] = [
  [6, pm10Jan6], [7, pm10Jan7], [8, pm10Jan8], [9, pm10Jan9], [10, pm10Jan10], [11, pm10Jan11],
];

const tvocActionLevel = 1.0;
const pm10ActionLevel = 150;
const leftTicks = [0, 0.5, 1, 1.5, 2];
const leftMinor = d3.range(0, 2.0001, 0.1);
const rightTicks = d3.range(0, 201, 10);

const titleLines = [
  '1-minute average concentrations',
  'Total Volatile Organic Compounds (TVOC) data is on the left axis and Respirable Dust (Particulate Matter less than 10 µm (PM10)) data is on the right axis',
];

const notes = [
  {
    box: [232, 157, 1273, 128], cx: 868, y0: 188,
    lines: [
      '1/6/2020, 07:17-07:23, 1.05-1.57 ppmv. Reading not attributed to on-going site work. Prevailing wind was',
      'from south of the project site. Odors were noted south of the project site. Readings were sustained, no',
      'actions were taken because readings were not attributed to site work.',
    ],
  },
  {
    box: [935, 385, 968, 134], cx: 1419, y0: 417,
    lines: [
      '1/7/2020, 08:05-08:09, 1.13-1.56 ppmv.  Reading not attributed to on-going site',
      'work. Prevailing wind was from south of the project site. Odors were noted',
      'south of the project site. Readings were not sustained.',
    ],
  },
  {
    box: [1877, 140, 703, 192], cx: 2229, y0: 170,
    lines: [
      '1/10/2020, 07:27-07:32, 1.00-1.42ppmv. Reading not',
      'attributed to on-going site work. Prevailing wind was',
      'from south of the project site. Odors were noted south',
      'of the project site. Readings were sustained, no actions',
      'were taken because readings were not attributed to site',
    ],
  },
];

// arrows in data space: [day, hour, ppmv]
const arrows = [
  { from: [6, 20.62, 1.671], to: [6, 10.66, 1.378] },
  { from: [7, 19.27, 1.27], to: [7, 11.74, 1.292] },
  { from: [10, 18.53, 1.496], to: [10, 10.18, 1.188] },
];

const ARIAL = '"Liberation Sans", Arial, sans-serif';
const CALIBRI = 'Lato, "Noto Sans", sans-serif';
const BLUE = '#4472C4';
const RED = '#FF0000';

const at = (day: number, h: number) => new Date(2020, 0, day, 0, 0, 0, Math.round(h * 3600000));

const App = () => {
  const svgRef = useRef<SVGSVGElement>(null);

  useEffect(() => {
    const svg = d3.select(svgRef.current);
    svg.selectAll('*').remove();

    const left = 179, right = 2663, top = 148, bottom = 981;
    const x = d3.scaleTime().domain([at(6, 0), at(12, 0)]).range([left, right]);
    const yL = d3.scaleLinear().domain([0, 2]).range([bottom, top]);
    const yR = d3.scaleLinear().domain([0, 200]).range([bottom, top]);

    svg.append('rect')
      .attr('x', 16).attr('y', 6).attr('width', 2814).attr('height', 1111)
      .attr('fill', '#fff').attr('stroke', '#808080').attr('stroke-width', 2);

    // gridlines
    svg.append('g').selectAll('line')
      .data(leftTicks.filter(d => d > 0 && d < 2))
      .enter().append('line')
      .attr('x1', left).attr('x2', right)
      .attr('y1', d => yL(d)).attr('y2', d => yL(d))
      .attr('stroke', '#d9d9d9').attr('stroke-width', 2);

    const dayTicks = x.ticks(d3.timeDay.every(1));
    svg.append('g').selectAll('line')
      .data(dayTicks.slice(1, -1))
      .enter().append('line')
      .attr('x1', d => x(d)).attr('x2', d => x(d))
      .attr('y1', top).attr('y2', bottom)
      .attr('stroke', '#a6a6a6').attr('stroke-width', 2);

    svg.append('line')
      .attr('x1', left).attr('x2', right).attr('y1', top).attr('y2', top)
      .attr('stroke', '#000').attr('stroke-width', 2);

    // left axis
    svg.append('line')
      .attr('x1', left).attr('x2', left).attr('y1', top).attr('y2', bottom)
      .attr('stroke', '#404040').attr('stroke-width', 1.5);
    svg.append('g').selectAll('line')
      .data(leftMinor)
      .enter().append('line')
      .attr('x1', left - 7).attr('x2', left)
      .attr('y1', d => yL(d)).attr('y2', d => yL(d))
      .attr('stroke', '#404040').attr('stroke-width', 1.5);
    svg.append('g').selectAll('text')
      .data(leftTicks)
      .enter().append('text')
      .attr('x', 155).attr('y', d => yL(d)).attr('dy', '0.35em')
      .attr('text-anchor', 'end')
      .style('font', `26px ${ARIAL}`).attr('fill', '#000')
      .text(d => d3.format('.3f')(d));

    // right axis
    svg.append('line')
      .attr('x1', right).attr('x2', right).attr('y1', top).attr('y2', bottom)
      .attr('stroke', '#404040').attr('stroke-width', 1.5);
    svg.append('g').selectAll('line')
      .data(rightTicks)
      .enter().append('line')
      .attr('x1', right).attr('x2', right + 8)
      .attr('y1', d => yR(d)).attr('y2', d => yR(d))
      .attr('stroke', '#404040').attr('stroke-width', 1.5);
    svg.append('g').selectAll('text')
      .data(rightTicks)
      .enter().append('text')
      .attr('x', 2684).attr('y', d => yR(d)).attr('dy', '0.35em')
      .style('font', `25px ${ARIAL}`).attr('fill', '#000')
      .text(d => d);

    // x axis
    const hourTicks = x.ticks(d3.timeHour.every(6));
    svg.append('g').selectAll('line')
      .data(hourTicks)
      .enter().append('line')
      .attr('x1', d => x(d)).attr('x2', d => x(d))
      .attr('y1', bottom).attr('y2', bottom + 8)
      .attr('stroke', '#404040').attr('stroke-width', 2);
    svg.append('line')
      .attr('x1', left).attr('x2', right).attr('y1', bottom).attr('y2', bottom)
      .attr('stroke', '#404040').attr('stroke-width', 3);
    svg.append('g').selectAll('text')
      .data(dayTicks)
      .enter().append('text')
      .attr('x', d => x(d)).attr('y', 1012).attr('dy', '0.35em')
      .attr('text-anchor', 'middle')
      .style('font', `26px ${ARIAL}`)
      .text(d => d3.timeFormat('%A, %B %-d, %Y')(d));
    svg.append('g').selectAll('text')
      .data(hourTicks)
      .enter().append('text')
      .attr('x', d => x(d)).attr('y', 1043).attr('dy', '0.35em')
      .attr('text-anchor', 'middle')
      .style('font', `20px ${ARIAL}`)
      .text(d => d3.timeFormat('%-I:%M %p')(d));

    // axis titles
    svg.append('text')
      .attr('transform', 'translate(70,503) rotate(-90)')
      .attr('text-anchor', 'middle')
      .style('font', `26px ${ARIAL}`)
      .text('TVOC Concentration (ppmv)');
    svg.append('text')
      .attr('transform', 'translate(2805,541) rotate(-90)')
      .attr('text-anchor', 'middle')
      .style('font', `26px ${ARIAL}`)
      .text('PM10 (respirable dust) Concentration (µg/m³)');

    // TVOC action level
    svg.append('line')
      .attr('x1', left).attr('x2', right)
      .attr('y1', yL(tvocActionLevel)).attr('y2', yL(tvocActionLevel))
      .attr('stroke', BLUE).attr('stroke-width', 4).attr('stroke-dasharray', '16,11.5');

    const tvoc = tvocByDay.flatMap(([day, pts]) => pts.map(([h, v]) => ({ t: at(day, h), v })));
    const pm10 = pm10ByDay.flatMap(([day, pts]) => pts.map(([h, v]) => ({ t: at(day, h), v })));

    svg.append('g').selectAll('circle')
      .data(tvoc)
      .enter().append('circle')
      .attr('cx', d => x(d.t)).attr('cy', d => yL(d.v)).attr('r', 6.5)
      .attr('fill', BLUE);

    svg.append('g').selectAll('circle')
      .data(pm10)
      .enter().append('circle')
      .attr('cx', d => x(d.t)).attr('cy', d => yR(d.v)).attr('r', 6.5)
      .attr('fill', RED);

    svg.append('line')
      .attr('x1', left).attr('x2', right)
      .attr('y1', yR(pm10ActionLevel)).attr('y2', yR(pm10ActionLevel))
      .attr('stroke', RED).attr('stroke-width', 4).attr('stroke-dasharray', '16,11.5');

    svg.append('text')
      .attr('x', 1425).attr('y', 333).attr('dy', '0.35em').attr('text-anchor', 'middle')
      .style('font', `26.4px ${CALIBRI}`)
      .text('PM10 Action Level = 150 µg/m³');
    svg.append('text')
      .attr('x', 1425).attr('y', 538).attr('dy', '0.35em').attr('text-anchor', 'middle')
      .style('font', `26.4px ${CALIBRI}`)
      .text('TVOC Action Level = 1.0 ppmv');

    // callouts
    notes.forEach(n => {
      svg.append('rect')
        .attr('x', n.box[0]).attr('y', n.box[1]).attr('width', n.box[2]).attr('height', n.box[3])
        .attr('fill', '#fff');
      svg.append('g').selectAll('text')
        .data(n.lines)
        .enter().append('text')
        .attr('x', n.cx).attr('y', (d, i) => n.y0 + i * 34.5).attr('dy', '0.35em')
        .attr('text-anchor', 'middle')
        .style('font', `26.4px ${CALIBRI}`).style('white-space', 'pre')
        .text(d => d);
    });

    svg.append('defs').append('marker')
      .attr('id', 'arrowhead')
      .attr('viewBox', '0 0 10 10')
      .attr('refX', 9).attr('refY', 5)
      .attr('markerUnits', 'userSpaceOnUse')
      .attr('markerWidth', 20).attr('markerHeight', 16)
      .attr('orient', 'auto')
      .append('path')
      .attr('d', 'M0,0 L10,5 L0,10 z')
      .attr('fill', BLUE);

    svg.append('g').selectAll('line')
      .data(arrows)
      .enter().append('line')
      .attr('x1', d => x(at(d.from[0], d.from[1]))).attr('y1', d => yL(d.from[2]))
      .attr('x2', d => x(at(d.to[0], d.to[1]))).attr('y2', d => yL(d.to[2]))
      .attr('stroke', BLUE).attr('stroke-width', 3.5)
      .attr('marker-end', 'url(#arrowhead)');

    // titles
    svg.append('text')
      .attr('x', 1424).attr('y', 60).attr('text-anchor', 'middle')
      .style('font', `bold 36px ${ARIAL}`)
      .text('AQM Station 2');
    svg.append('g').selectAll('text')
      .data(titleLines)
      .enter().append('text')
      .attr('x', 1424).attr('y', (d, i) => 91 + i * 30).attr('text-anchor', 'middle')
      .style('font', `25.7px ${ARIAL}`)
      .text(d => d);

    // legend
    const ly = 1083;
    const legend = svg.append('g').style('font', `24px ${ARIAL}`);
    legend.append('line').attr('x1', 580).attr('x2', 650).attr('y1', ly).attr('y2', ly)
      .attr('stroke', BLUE).attr('stroke-width', 4).attr('stroke-dasharray', '16,11.5');
    legend.append('text').attr('x', 654).attr('y', ly).attr('dy', '0.35em').text('TVOC Action Level = 1.0 ppmv');
    legend.append('circle').attr('cx', 1091).attr('cy', ly).attr('r', 7).attr('fill', BLUE);
    legend.append('text').attr('x', 1132).attr('y', ly).attr('dy', '0.35em').text('AQM Station 2 TVOC');
    legend.append('circle').attr('cx', 1463).attr('cy', ly).attr('r', 7).attr('fill', RED);
    legend.append('text').attr('x', 1506).attr('y', ly).attr('dy', '0.35em').text('AQM Station 2 PM10 Dust');
    legend.append('line').attr('x1', 1858).attr('x2', 1925).attr('y1', ly).attr('y2', ly)
      .attr('stroke', RED).attr('stroke-width', 4).attr('stroke-dasharray', '16,11.5');
    legend.append('text').attr('x', 1932).attr('y', ly).attr('dy', '0.35em').text('PM10 Action Level = 150 µg/m3');
  }, []);

  return (
    <svg
      ref={svgRef}
      width={W}
      height={H}
      style={{ position: 'absolute', left: 0, top: 0, background: '#fff' }}
    />
  );
};

export default App;
